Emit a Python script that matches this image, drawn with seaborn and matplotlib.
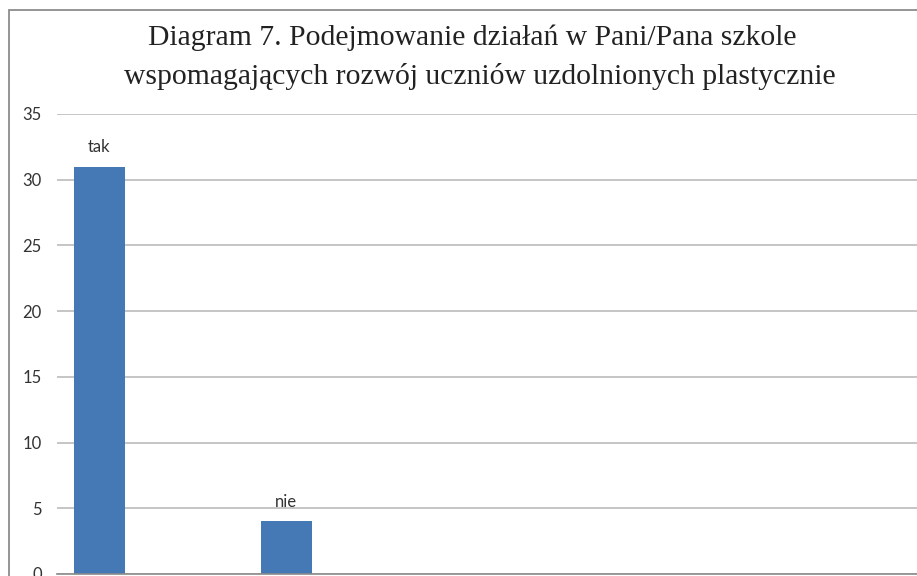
import pandas as pd
import matplotlib
matplotlib.use("Agg")
import matplotlib.pyplot as plt
from matplotlib.patches import Rectangle
import seaborn as sns

# data
categories = ["tak", "nie", "c3", "c4", "c5"]
series = ["seria 1", "seria 2", "seria 3"]
bar_categories = ["tak", "nie"]
bar_values = [31, 4]
y_ticks = [0, 5, 10, 15, 20, 25, 30, 35]
title_lines = ["Diagram 7. Podejmowanie działań w Pani/Pana szkole",
               "wspomagających rozwój uczniów uzdolnionych plastycznie"]

# only the first series has values; the others are empty (0) but keep their slot
rows = []
for cat in categories:
    for s in series:
        v = 0
        if s == series[0] and cat in bar_categories:
            v = bar_values[bar_categories.index(cat)]
        rows.append({"kategoria": cat, "seria": s, "liczba": v})
df = pd.DataFrame(rows)

sns.set_style("white")
plt.rcParams["font.family"] = ["Lato", "DejaVu Sans"]

W, H = 917, 576
fig = plt.figure(figsize=(W / 100, H / 100), dpi=100)
ax = fig.add_axes([57 / W, 2 / H, 860 / W, 460 / H])

sns.barplot(data=df, x="kategoria", y="liczba", hue="seria",
            order=categories, hue_order=series,
            palette=["#4579B5"] * len(series), width=0.82, saturation=1,
            linewidth=0, errorbar=None, legend=False, ax=ax)

# data labels above bars
for cont in ax.containers:
    for rect in cont:
        h = rect.get_height()
        if h and h in bar_values:
            ax.annotate(bar_categories[bar_values.index(h)],
                        (rect.get_x() + rect.get_width() / 2, h),
                        xytext=(0, 8), textcoords="offset points",
                        ha="center", va="bottom", fontsize=12, color="#333333")

ax.set_ylim(0, 35)
ax.set_yticks(y_ticks)
ax.set_xticks([i - 0.5 for i in range(len(categories) + 1)])
ax.set_xticklabels([])
ax.set_xlim(-0.5, -0.5 + 860 / 187)
ax.yaxis.grid(True, color="#b5b5b5", linewidth=1.1)
ax.set_axisbelow(True)
ax.tick_params(axis="y", length=0, pad=11, labelsize=12, labelcolor="#333333")
ax.tick_params(axis="x", length=3, width=1, color="#8a8a8a", direction="out")
for s in ["left", "top", "right"]:
    ax.spines[s].set_visible(False)
ax.spines["bottom"].set_color("#8a8a8a")
ax.spines["bottom"].set_linewidth(1.2)
ax.set_xlabel("")
ax.set_ylabel("")

# chart border
fig.patches.append(Rectangle((9 / W, -0.1), 1.2, 1.1 - 10 / H,
                             transform=fig.transFigure, fill=False,
                             edgecolor="#8c8c8c", linewidth=1.3))

fig.text(472 / W, 1 - 38 / H, title_lines[0], ha="center", va="center",
         family=["Liberation Serif", "DejaVu Serif"], fontsize=21.3, color="#222222")
fig.text(480 / W, 1 - 76 / H, title_lines[1], ha="center", va="center",
         family=["Liberation Serif", "DejaVu Serif"], fontsize=21.3, color="#222222")

fig.savefig("out.png", dpi=100)
